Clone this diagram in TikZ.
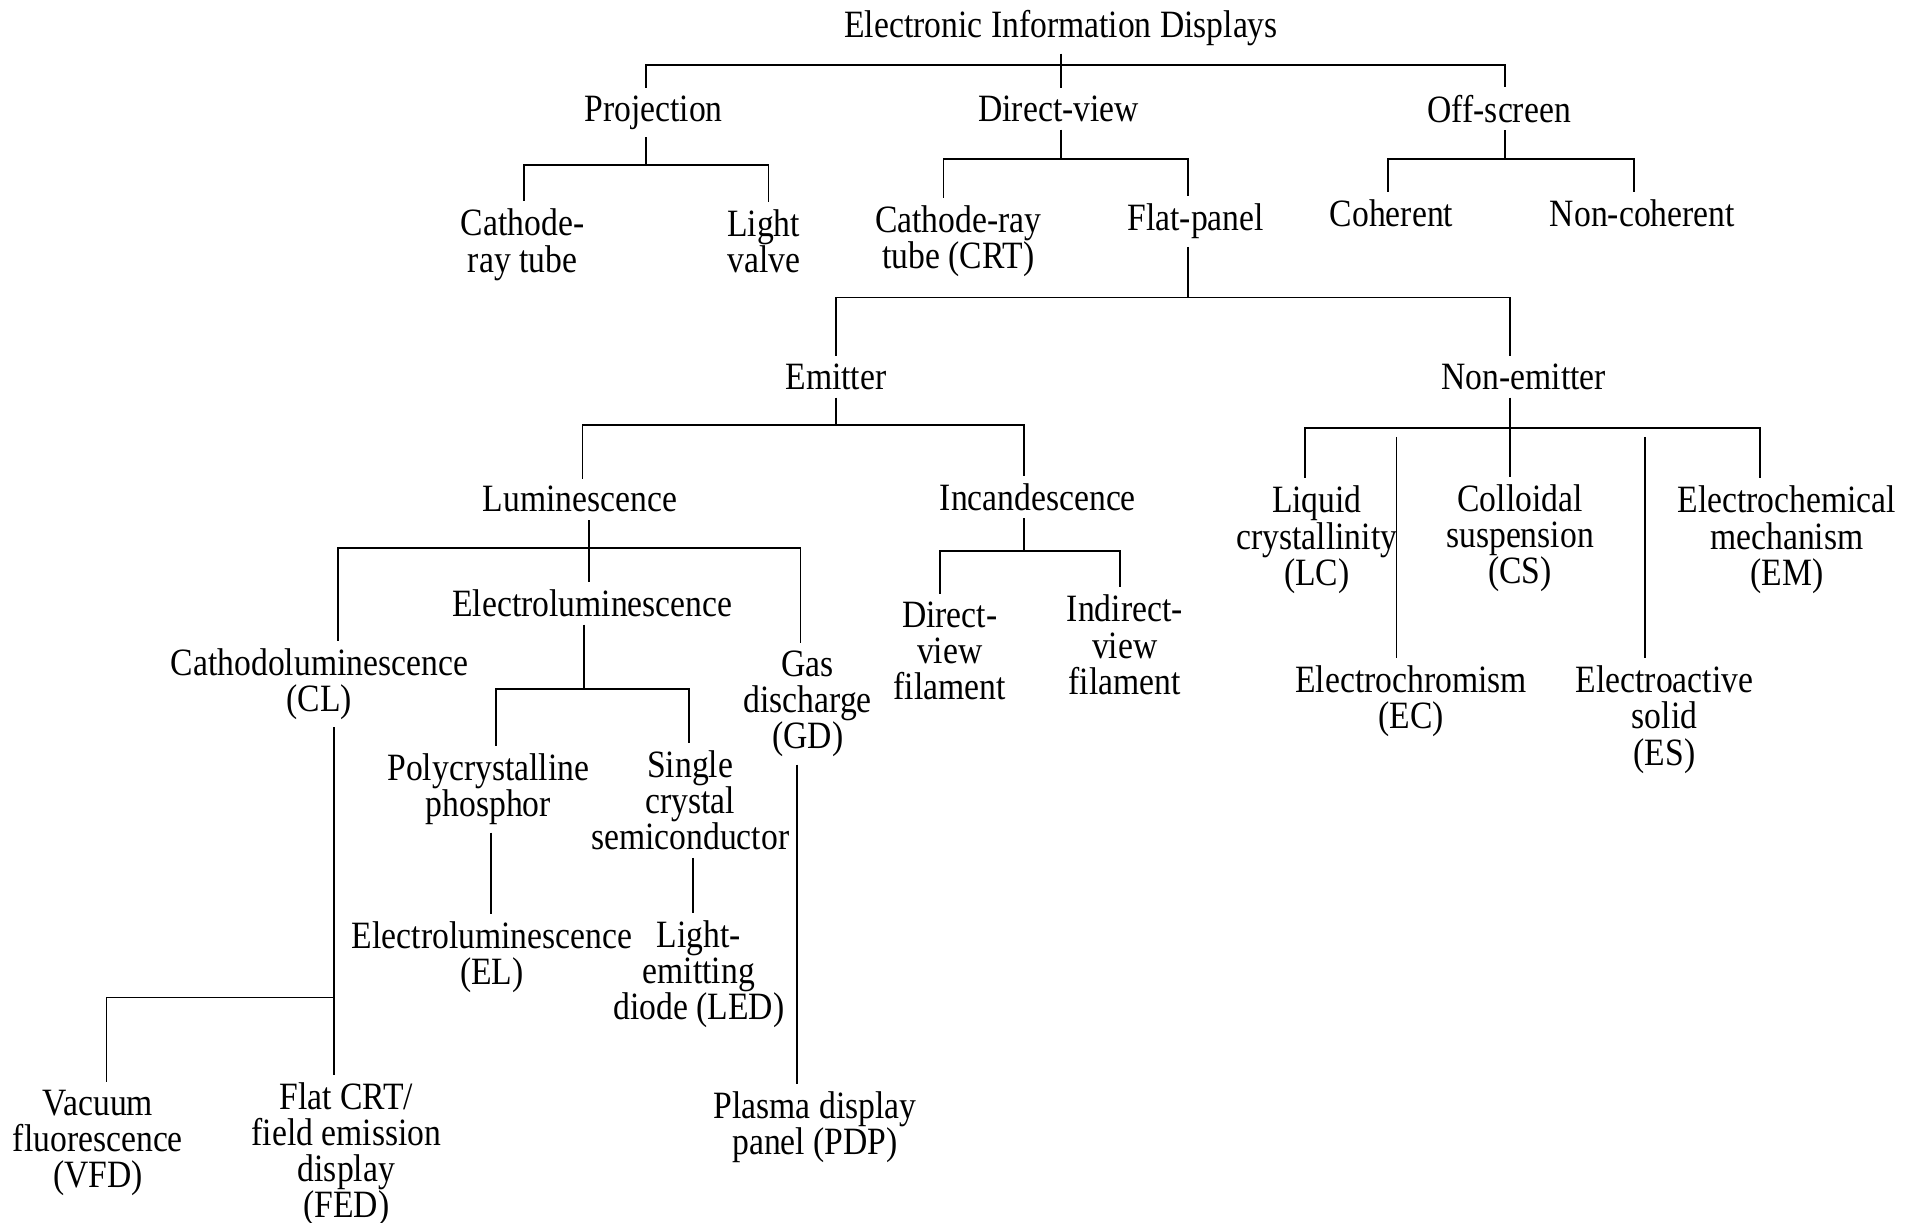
\documentclass[tikz,border=0pt]{standalone}
\usepackage{fontspec}
\setmainfont{Liberation Serif}[FakeStretch=0.87]
\usepackage{tikz}
\usetikzlibrary{positioning}
\tikzstyle{branch} = [text centered, align=center, inner sep=2pt, font=\fontsize{11}{10.3}\selectfont]
\tikzstyle{line} = [draw, line width=0.5pt, color=black]
\tikzset{nudge/.style={xshift=#1*0.12239mm}}
\newcommand{\branch}[2]{node (#1) [branch] {#2}}

\begin{document}
\begin{tikzpicture}[x=0.12239mm, y=-0.12239mm]
\useasboundingbox (0,0) rectangle (1568,999);
\path (867,23) \branch{root}{Electronic Information Displays};
\path (root)+(-333,69) \branch{proj}{Projection};
\path (root)+(-2,66) \branch{dview}{Direct-view};
\path (root)+(358,66) \branch{offs}{Off-screen};
\path (root)+(0,30) coordinate (jroot);
\path [line] (root.south) -- (jroot);
\path [line] (jroot) -| ([nudge=-6]proj.north);
\path [line] (jroot) -| ([nudge=2]dview.north);
\path [line] (jroot) -| ([nudge=5]offs.north);

\path (proj)+(-107,108) \branch{crtp}{Cathode-\\ray tube};
\path (proj)+(90,105) \branch{lvalve}{Light\\valve};
\path (proj)+(-6,43) coordinate (jproj);
\path [line] (proj.south -| jproj) -- (jproj) -| ([nudge=1]crtp.north);
\path [line] (jproj) -| ([nudge=4]lvalve.north);

\path (dview)+(-82,108) \branch{crt}{Cathode-ray\\tube (CRT)};
\path (dview)+(112,92) \branch{flat}{Flat-panel};
\path (dview)+(2,41) coordinate (jdview);
\path [line] (dview.south -| jdview) -- (jdview) -| ([nudge=-12]crt.north);
\path [line] (jdview) -| ([nudge=-6]flat.north);

\path (offs)+(-88,85) \branch{coh}{Coherent};
\path (offs)+(117,85) \branch{ncoh}{Non-coherent};
\path (offs)+(5,41) coordinate (joffs);
\path [line] (offs.south -| joffs) -- (joffs) -| ([nudge=-3]coh.north);
\path [line] (joffs) -| ([nudge=-7]ncoh.north);

\path (flat)+(-294,127) \branch{emit}{Emitter};
\path (flat)+(268,127) \branch{nemit}{Non-emitter};
\path (flat)+(-6,62) coordinate (jflat);
\path [line] (flat.south -| jflat) -- (jflat) -| (emit.north);
\path [line] (jflat) -| ([nudge=-11]nemit.north);

\path (emit)+(-209,100) \branch{lum}{Luminescence};
\path (emit)+(165,98) \branch{inc}{Incandescence};
\path (emit)+(0,39) coordinate (jemit);
\path [line] (emit.south) -- (jemit) -| ([nudge=2]lum.north);
\path [line] (jemit) -| ([nudge=-11]inc.north);

\path (inc)+(-72,126) \branch{dvf}{Direct-\\view\\filament};
\path (inc)+(71,121) \branch{ivf}{Indirect-\\view\\filament};
\path (inc)+(-11,44) coordinate (jinc);
\path [line] (inc.south -| jinc) -- (jinc) -| ([nudge=-8]dvf.north);
\path [line] (jinc) -| ([nudge=-4]ivf.north);

\path (lum)+(10,85) \branch{elum}{Electroluminescence};
\path (lum)+(-213,151) \branch{cl}{Cathodoluminescence\\(CL)};
\path (lum)+(186,167) \branch{gd}{Gas\\discharge\\(GD)};
\path (lum)+(7,40) coordinate (jlum);
\path [line] (lum.south -| jlum) -- (jlum) -| ([nudge=15]cl.north);
\path [line] (jlum) -| ([nudge=-3]elum.north);
\path [line] (jlum) -| ([nudge=-6]gd.north);

\path (elum)+(-85,152) \branch{poly}{Polycrystalline\\phosphor};
\path (elum)+(80,161) \branch{single}{Single\\crystal\\semiconductor};
\path (elum)+(-7,70) coordinate (jelum);
\path [line] (elum.south -| jelum) -- (jelum) -| ([nudge=6]poly.north);
\path [line] (jelum) -| ([nudge=-1]single.north);

\path (poly)+(3,137) \branch{el}{Electroluminescence\\(EL)};
\path (single)+(7,142) \branch{led}{Light-\\emitting\\diode (LED)};
\path (gd)+(6,346) \branch{pdp}{Plasma display\\panel (PDP)};
\path [line] ([nudge=2]poly.south) -- ([nudge=-1]el.north);
\path [line] ([nudge=2]single.south) -- ([nudge=-5]led.north);
\path [line] ([nudge=-9]gd.south) -- ([nudge=-15]pdp.north);

\path (cl)+(22,384) \branch{fed}{Flat CRT/\\field emission\\display\\(FED)};
\path (cl)+(-181,375) \branch{vfd}{Vacuum\\fluorescence\\(VFD)};
\path (cl)+(12,256) coordinate (jcl);
\path [line] (cl.south -| jcl) -- (jcl) -- (fed.north -| jcl);
\path [line] (jcl) -| ([nudge=7]vfd.north);

\path (nemit)+(-169,133) \branch{lc}{Liquid\\crystallinity\\(LC)};
\path (nemit)+(-3,132) \branch{cs}{Colloidal\\suspension\\(CS)};
\path (nemit)+(215,133) \branch{em}{Electrochemical\\mechanism\\(EM)};
\path (nemit)+(-92,265) \branch{ec}{Electrochromism\\(EC)};
\path (nemit)+(115,280) \branch{es}{Electroactive\\solid\\(ES)};
\path (nemit)+(-11,42) coordinate (jnemit);
\path (nemit)+(-104,49) coordinate (jec);
\path (nemit)+(99,49) coordinate (jes);
\path [line] (nemit.south -| jnemit) -- (jnemit) -| ([nudge=-10]lc.north);
\path [line] (jnemit) -| ([nudge=-8]cs.north);
\path [line] (jnemit) -| ([nudge=-22]em.north);
\path [line] (jec) -- (ec.north -| jec);
\path [line] (jes) -- (es.north -| jes);
\end{tikzpicture}
\end{document}
